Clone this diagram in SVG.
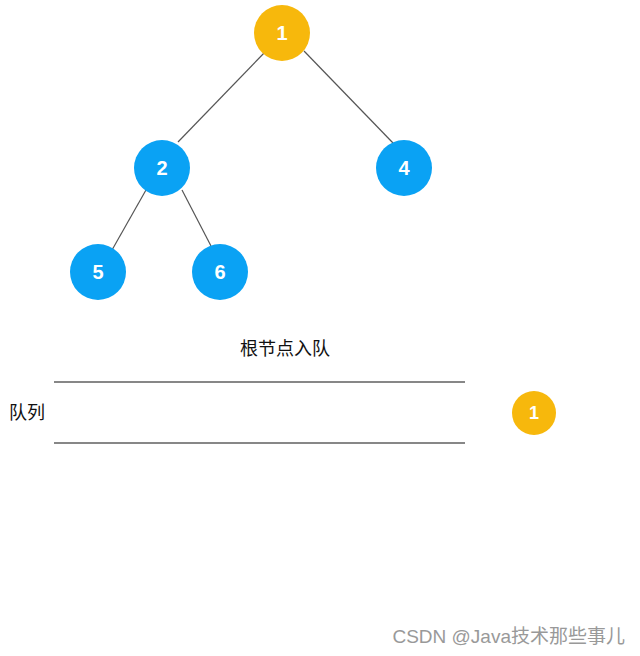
<svg xmlns="http://www.w3.org/2000/svg" width="640" height="656" viewBox="0 0 640 656">
<style>
.edge{stroke:#555;stroke-width:1.2;fill:none}
.blue{fill:#0AA2F4}
.orange{fill:#F7B80C}
.num{font-family:"Liberation Sans",Arial,sans-serif;font-weight:bold;fill:#fff;text-anchor:middle;dominant-baseline:central}
.cn{font-family:"Liberation Sans","Noto Sans CJK SC",sans-serif;fill:#111;font-size:18px}
.rule{stroke:#111;stroke-width:1.2}
</style>
<rect width="640" height="656" fill="#fff"/>
<g id="connectors">
<line class="edge" x1="266" y1="51" x2="178" y2="142"/>
<line class="edge" x1="304" y1="51" x2="393" y2="143"/>
<line class="edge" x1="146" y1="190" x2="112" y2="250"/>
<line class="edge" x1="182" y1="190" x2="211" y2="246"/>
</g>
<g id="n1"><circle class="orange" cx="282" cy="33" r="28"/><text class="num" x="282" y="33" font-size="20">1</text></g>
<g id="n2"><circle class="blue" cx="162" cy="168" r="28"/><text class="num" x="162" y="168" font-size="20">2</text></g>
<g id="n4"><circle class="blue" cx="404" cy="168" r="28"/><text class="num" x="404" y="168" font-size="20">4</text></g>
<g id="n5"><circle class="blue" cx="98" cy="272" r="28"/><text class="num" x="98" y="272" font-size="20">5</text></g>
<g id="n6"><circle class="blue" cx="220" cy="272" r="28"/><text class="num" x="220" y="272" font-size="20">6</text></g>
<text class="cn" x="285" y="355" text-anchor="middle">根节点入队</text>
<line class="rule" x1="54" y1="382" x2="465" y2="382"/>
<line class="rule" x1="54" y1="443" x2="465" y2="443"/>
<text class="cn" x="9" y="419">队列</text>
<g id="q1"><circle class="orange" cx="534" cy="413" r="22"/><text class="num" x="534" y="413" font-size="18">1</text></g>
<text x="625" y="643" text-anchor="end" font-family="Liberation Sans,'Noto Sans CJK SC',sans-serif" font-size="19" fill="#999">CSDN @Java技术那些事儿</text>
</svg>
